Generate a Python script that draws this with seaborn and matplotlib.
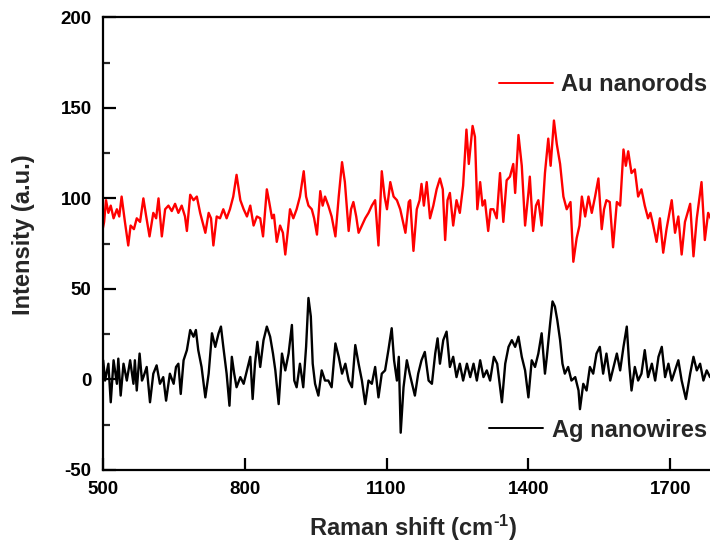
import matplotlib
matplotlib.use("Agg")
import matplotlib.pyplot as plt
import seaborn as sns
import pandas as pd
from matplotlib.ticker import MultipleLocator

# ---------------- data ----------------
au_shift = [500,503,507,512,517,523,530,535,540,547,554,559,566,572,579,586,592,599,607,613,
            618,625,632,639,646,653,660,667,674,678,685,692,699,706,717,724,729,734,741,748,
            755,762,769,776,783,791,798,805,812,819,826,833,839,847,852,858,862,868,875,881,
            886,891,896,903,910,917,925,930,935,942,947,953,960,965,970,977,984,992,999,1006,
            1012,1020,1025,1030,1036,1041,1048,1055,1062,1069,1076,1083,1090,1096,1101,1108,1115,1122,1129,1140,
            1147,1150,1157,1164,1170,1174,1179,1185,1192,1199,1206,1213,1219,1224,1229,1234,1241,1248,1255,1262,
            1269,1274,1282,1287,1292,1298,1303,1308,1315,1320,1326,1333,1340,1347,1354,1361,1368,1372,1379,1386,
            1393,1400,1403,1410,1416,1421,1428,1435,1442,1447,1454,1460,1467,1474,1481,1489,1495,1502,1508,1513,
            1520,1527,1534,1541,1548,1555,1560,1565,1572,1579,1587,1594,1601,1606,1611,1618,1625,1632,1639,1646,
            1653,1658,1664,1671,1678,1685,1692,1703,1710,1717,1724,1731,1742,1749,1756,1766,1773,1780,1787,1795]
au_intensity = [83,87,99,92,96,89,94,90,101,87,74,85,83,89,87,100,90,79,92,89,
                100,79,94,96,93,97,92,96,90,82,102,99,101,92,81,92,89,74,90,89,
                94,89,94,101,113,99,94,90,96,85,90,89,79,105,98,89,91,76,85,81,
                69,81,94,89,94,101,115,101,96,94,89,80,104,96,101,96,90,79,101,120,
                109,82,94,98,90,81,85,89,92,96,99,74,115,101,94,109,101,99,94,81,
                98,99,71,94,99,108,96,109,89,96,105,111,105,77,99,103,85,99,92,107,
                138,119,140,134,94,109,96,99,82,94,94,89,114,87,110,112,119,103,135,118,
                85,103,112,82,96,99,85,114,133,118,143,130,119,101,94,98,65,78,85,101,
                90,101,92,101,111,83,94,99,98,73,98,96,127,118,126,114,116,101,105,96,
                89,92,85,76,89,70,83,99,81,90,69,87,97,68,89,109,77,92,88,90]

ag_shift = [501,505,512,517,523,530,533,538,544,551,558,565,568,572,578,583,586,593,600,607,
            614,621,628,634,642,650,655,660,665,671,678,685,692,697,702,709,717,724,731,738,
            745,750,755,762,768,773,778,783,791,798,805,812,817,822,827,833,840,847,854,860,
            865,872,879,886,893,900,905,910,917,924,930,935,940,944,949,956,963,970,977,984,
            992,999,1006,1013,1020,1027,1034,1041,1048,1055,1062,1069,1076,1083,1090,1097,1104,1111,1116,1122,
            1126,1130,1136,1143,1149,1160,1167,1174,1181,1189,1196,1203,1208,1213,1220,1227,1234,1241,1248,1255,
            1262,1270,1277,1284,1291,1298,1305,1312,1319,1327,1334,1344,1351,1358,1365,1372,1379,1386,1393,1400,
            1407,1414,1421,1428,1435,1439,1446,1451,1456,1461,1467,1472,1477,1484,1491,1499,1506,1509,1516,1523,
            1530,1537,1544,1551,1558,1565,1573,1580,1587,1594,1601,1608,1613,1618,1625,1632,1639,1646,1653,1661,
            1668,1675,1682,1689,1696,1703,1710,1717,1724,1733,1742,1749,1756,1763,1770,1777,1784,1795]
ag_intensity = [10.6,-0.6,8.7,-12.6,10.6,-2.4,11.5,-8.9,8.7,-0.6,10.6,-2.4,10.6,-6.1,14.3,-0.6,1.3,6.9,-12.6,3.2,
                7.8,-2.4,1.3,-11.7,3.2,-2.4,6.9,8.7,-8.0,10.6,16.2,27.3,23.6,27.3,16.2,6.9,-9.9,3.2,25.5,18.0,
                25.5,29.2,18.0,3.2,-14.5,12.5,3.2,-4.3,1.3,-2.4,5.0,12.5,-10.8,8.7,20.8,6.9,21.7,29.2,23.6,14.3,
                5.0,-13.6,14.3,5.0,14.3,30.1,-0.6,-4.3,8.7,-4.3,18.0,45.0,34.8,8.7,-2.4,-8.9,5.0,-0.6,-0.6,-4.3,
                19.9,12.5,3.2,8.7,-0.6,-4.3,19.0,8.7,-0.6,-13.6,-0.6,-2.4,6.9,-9.9,3.2,5.0,16.2,28.3,10.6,-0.6,
                12.5,-29.4,-4.3,10.6,3.2,-8.9,3.2,10.6,15.2,-0.6,-2.4,14.3,22.7,8.7,21.7,26.4,6.9,12.5,1.3,8.7,
                -0.6,8.7,1.3,8.7,-0.6,10.6,1.3,5.0,-0.6,12.5,8.7,-12.6,8.7,18.0,21.7,18.0,23.6,12.5,5.0,-9.9,
                10.6,6.9,14.3,25.5,3.2,12.5,31.0,43.1,40.3,32.9,21.7,8.7,3.2,6.9,-0.6,1.3,-6.1,-16.4,-2.4,-6.1,
                6.9,3.2,14.3,18.0,3.2,14.3,-0.6,6.9,14.3,5.0,18.0,29.2,8.7,-6.1,6.9,-0.6,3.2,16.2,1.3,8.7,
                -0.6,12.5,18.0,1.3,8.7,-0.6,5.0,10.6,-0.6,-10.8,3.2,12.5,5.0,8.7,-0.6,5.0,1.3,4.0]

labels = ["Au nanorods", "Ag nanowires"]
x_ticks = [500, 800, 1100, 1400, 1700]
y_ticks = [-50, 0, 50, 100, 150, 200]

# ---------------- style ----------------
sns.set_style("ticks")
plt.rcParams["font.family"] = ["Liberation Sans", "DejaVu Sans"]
plt.rcParams["font.weight"] = "bold"
plt.rcParams["axes.labelweight"] = "bold"
plt.rcParams["axes.unicode_minus"] = False
plt.rcParams["mathtext.fontset"] = "custom"
plt.rcParams["mathtext.bf"] = "Liberation Sans:bold"
plt.rcParams["mathtext.rm"] = "Liberation Sans:bold"
plt.rcParams["mathtext.default"] = "bf"

W, H = 710, 544
fig = plt.figure(figsize=(W / 100, H / 100), dpi=100)
ax_left, ax_right, ax_top, ax_bottom = 102.7, 717.6, 17.3, 470.0
ax = fig.add_axes([ax_left / W, 1 - ax_bottom / H, (ax_right - ax_left) / W, (ax_bottom - ax_top) / H])

au_df = pd.DataFrame({"shift": au_shift, "intensity": au_intensity})
ag_df = pd.DataFrame({"shift": ag_shift, "intensity": ag_intensity})

sns.lineplot(data=au_df, x="shift", y="intensity", color="#ff0000", linewidth=1.7,
             estimator=None, ax=ax, label=labels[0], legend=False)
sns.lineplot(data=ag_df, x="shift", y="intensity", color="#000000", linewidth=1.7,
             estimator=None, ax=ax, label=labels[1], legend=False)

ax.set_xlim(500, 1800)
ax.set_ylim(-50, 200)
ax.set_xticks(x_ticks)
ax.set_yticks(y_ticks)
ax.yaxis.set_minor_locator(MultipleLocator(25))

for s in ax.spines.values():
    s.set_linewidth(1.6)
    s.set_color("black")
ax.tick_params(axis="both", which="major", direction="in", length=9, width=1.6,
               labelsize=13.5, colors="black")
ax.tick_params(axis="y", which="major", pad=8)
ax.tick_params(axis="x", which="major", pad=8)
ax.tick_params(axis="y", which="minor", direction="in", length=5, width=1.6)
for lab in ax.get_xticklabels() + ax.get_yticklabels():
    lab.set_fontweight("bold")

ax.set_xlabel(r"Raman shift (cm$^{\text{-1}}$)", fontsize=17, fontweight="bold")
ax.set_ylabel("Intensity (a.u.)", fontsize=17, fontweight="bold")
ax.xaxis.label.set_verticalalignment("center")
ax.yaxis.label.set_verticalalignment("center")
ax.xaxis.set_label_coords((413 - ax_left) / (ax_right - ax_left), -(528 - ax_bottom) / (ax_bottom - ax_top))
ax.yaxis.set_label_coords(-(ax_left - 24) / (ax_right - ax_left), (ax_bottom - 235) / (ax_bottom - ax_top))

lines = ax.get_lines()
leg1 = ax.legend(handles=[lines[0]], labels=[labels[0]], loc="center left",
                 bbox_to_anchor=(499 / W, 1 - 84.5 / H), bbox_transform=fig.transFigure,
                 frameon=False, borderpad=0, borderaxespad=0, handlelength=2.3,
                 handletextpad=0.33, prop={"size": 17, "weight": "bold"})
for l in leg1.get_lines():
    l.set_linewidth(1.4)
ax.add_artist(leg1)
leg2 = ax.legend(handles=[lines[1]], labels=[labels[1]], loc="center left",
                 bbox_to_anchor=(489 / W, 1 - 430 / H), bbox_transform=fig.transFigure,
                 frameon=False, borderpad=0, borderaxespad=0, handlelength=2.3,
                 handletextpad=0.36, prop={"size": 17, "weight": "bold"})
for l in leg2.get_lines():
    l.set_linewidth(1.4)

fig.savefig("out.png", dpi=100)
